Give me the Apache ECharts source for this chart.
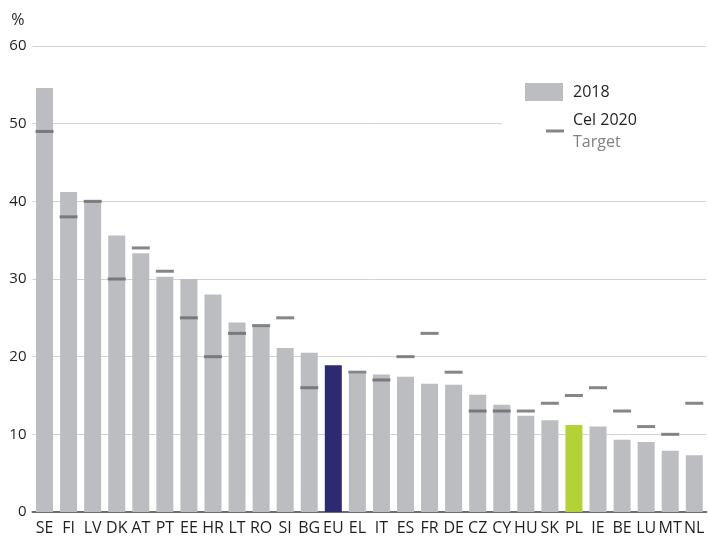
<!DOCTYPE html>
<html>
<head>
<meta charset="utf-8">
<script src="https://cdn.jsdelivr.net/npm/echarts@6/dist/echarts.min.js"></script>
<style>
html,body{margin:0;padding:0;background:#fff;}
#chart{width:708px;height:540px;}
</style>
</head>
<body>
<div id="chart"></div>
<script>
const categories = ['SE','FI','LV','DK','AT','PT','EE','HR','LT','RO','SI','BG','EU','EL','IT','ES','FR','DE','CZ','CY','HU','SK','PL','IE','BE','LU','MT','NL'];
const values2018 = [54.6,41.2,40.1,35.6,33.3,30.3,30.0,28.0,24.4,23.9,21.1,20.5,18.9,17.8,17.7,17.4,16.5,16.4,15.1,13.8,12.4,11.8,11.2,11.0,9.3,9.0,7.9,7.3];
const target2020 = [49,38,40,30,34,31,25,20,23,24,25,16,null,18,17,20,23,18,13,13,13,14,15,16,13,11,10,14];
const yTicks = [0,10,20,30,40,50,60];

const FONT = '"Open Sans", "Noto Sans", sans-serif';
const BAR = '#bcbdc0';
const MARK = '#67686b';
const chart = echarts.init(document.getElementById('chart'));
chart.setOption({
  animation: false,
  backgroundColor: '#ffffff',
  textStyle: { fontFamily: FONT },
  grid: { left: 32.5, right: 1.7, top: 46, bottom: 28, containLabel: false },
  graphic: [{
    type: 'rect', z: 1,
    shape: { x: 502, y: 60, width: 206, height: 120 },
    style: { fill: '#ffffff' }
  }],
  legend: [{
    data: [{ name: '2018', itemStyle: { color: BAR } }],
    left: 525, top: 83, padding: 0,
    itemWidth: 38, itemHeight: 18,
    icon: 'rect',
    textStyle: { fontSize: 16, color: '#231f20', padding: [0,0,0,5] }
  }, {
    data: [{ name: 'Cel 2020', itemStyle: { color: MARK } }],
    left: 546, top: 112, padding: 0,
    itemWidth: 18, itemHeight: 3,
    icon: 'rect',
    formatter: function () { return '{a|Cel 2020}\n{b|Target}'; },
    textStyle: {
      padding: [0,0,0,4],
      rich: {
        a: { fontSize: 16, color: '#231f20', fontFamily: FONT, lineHeight: 22 },
        b: { fontSize: 16, color: '#808285', fontFamily: FONT, lineHeight: 22 }
      }
    }
  }],
  xAxis: {
    type: 'category',
    data: categories,
    axisTick: { show: false },
    axisLine: { lineStyle: { color: '#6d6e71', width: 2 } },
    axisLabel: { interval: 0, fontSize: 16, color: '#231f20', margin: 8 }
  },
  yAxis: {
    type: 'value',
    min: 0, max: 60, interval: 10,
    name: '%',
    nameLocation: 'end',
    nameGap: 18,
    nameTextStyle: { fontSize: 16, color: '#231f20', align: 'right', padding: [0, 8, 0, 0] },
    axisLine: { show: false },
    axisTick: { show: false },
    axisLabel: { fontSize: 15, color: '#231f20', margin: 6,
      formatter: function (v) { return yTicks.indexOf(v) >= 0 ? String(v) : ''; } },
    splitLine: { lineStyle: { color: '#d1d2d4', width: 1 } }
  },
  series: [{
    name: '2018',
    type: 'bar',
    data: values2018,
    barWidth: 17,
    z: 2,
    itemStyle: {
      color: function (p) {
        const c = categories[p.dataIndex];
        if (c === 'EU') return '#2e2a72';
        if (c === 'PL') return '#b3d235';
        return BAR;
      }
    }
  }, {
    name: 'Cel 2020',
    type: 'scatter',
    data: target2020,
    symbol: 'rect',
    symbolSize: [18, 3],
    z: 3,
    itemStyle: { color: MARK }
  }]
});
</script>
</body>
</html>
